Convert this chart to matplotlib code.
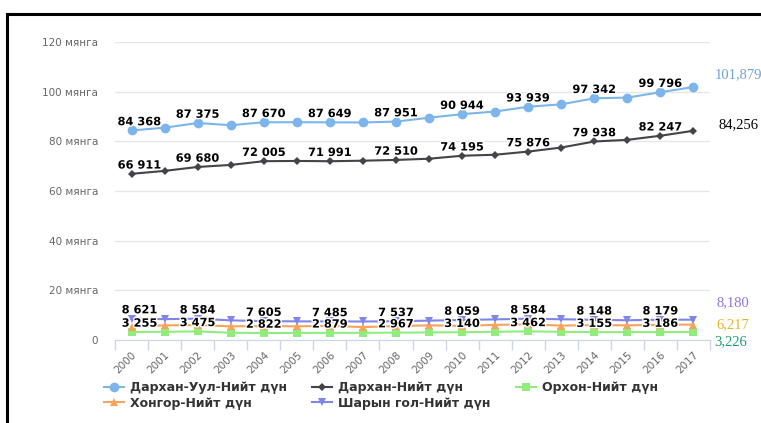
import matplotlib.pyplot as plt
import matplotlib.patheffects as pe
from matplotlib.lines import Line2D

# Years on the category axis
years = list(range(2000, 2018))

# Series values (persons)
darkhan_uul = [84368, 85500, 87375, 86500, 87670, 87700, 87649, 87600, 87951,
               89500, 90944, 92000, 93939, 94900, 97342, 97600, 99796, 101879]
darkhan = [66911, 68100, 69680, 70500, 72005, 72100, 71991, 72200, 72510,
           73000, 74195, 74600, 75876, 77500, 79938, 80600, 82247, 84256]
orkhon = [3255, 3300, 3475, 2900, 2822, 2850, 2879, 2900, 2967,
          3050, 3140, 3300, 3462, 3300, 3155, 3170, 3186, 3226]
khongor = [5400, 5900, 6000, 5500, 5600, 5500, 5700, 5200, 5600,
           5900, 5700, 6100, 6300, 5800, 6000, 5900, 6100, 6217]
sharyn_gol = [8621, 8400, 8584, 7900, 7605, 7500, 7485, 7450, 7537,
              7800, 8059, 8300, 8584, 8350, 8148, 7950, 8179, 8180]

series_names = ['Дархан-Уул-Нийт дүн', 'Дархан-Нийт дүн', 'Орхон-Нийт дүн',
                'Хонгор-Нийт дүн', 'Шарын гол-Нийт дүн']

y_ticks = [0, 20000, 40000, 60000, 80000, 100000, 120000]
y_tick_labels = ['0', '20 мянга', '40 мянга', '60 мянга', '80 мянга',
                 '100 мянга', '120 мянга']

W, H = 761, 423
fig = plt.figure(figsize=(W / 100, H / 100), dpi=100)
ax = fig.add_axes([115 / W, 1 - 340 / H, (710 - 115) / W, (340 - 42) / H])

x = list(range(len(years)))

# series: values, colour, marker, size, label-every-other-point?, end label colour, end label offset (px)
series = [
    (darkhan_uul, '#7cb5ec', 'o', 7.0, True, '#6fa3d4', (21, 12)),
    (darkhan, '#434348', 'D', 4.5, True, 'black', (25, 6)),
    (orkhon, '#90ed7d', 's', 6.0, True, '#1e9c6c', (21, -10)),
    (khongor, '#f7a35c', '^', 6.0, False, '#e6b425', (23, 0)),
    (sharyn_gol, '#8085e9', 'v', 6.0, True, '#9673d6', (23, 17)),
]

handles = []
outline = [pe.withStroke(linewidth=2, foreground='white')]
for i, (vals, col, mk, ms, labelled, end_col, off) in enumerate(series):
    h, = ax.plot(x, vals, color=col, lw=1.5, marker=mk, markersize=ms,
                 markeredgewidth=0, label=series_names[i], zorder=3 + i,
                 clip_on=False)
    handles.append(h)
    if labelled:
        for j in range(0, len(vals) - 1, 2):
            dx = 8 if j == 0 else 0
            ax.annotate(f'{vals[j]:,}'.replace(',', ' '), (x[j], vals[j]),
                        xytext=(dx * 0.72, 3.8), textcoords='offset points',
                        ha='center', va='baseline', fontsize=8.2,
                        fontweight='bold', color='black', zorder=20,
                        path_effects=outline)
    ax.annotate(f'{vals[-1]:,}', (x[-1], vals[-1]),
                xytext=(off[0] * 0.72, off[1] * 0.72), textcoords='offset points',
                ha='left', va='center', fontsize=10.5, color=end_col,
                family='Liberation Serif', annotation_clip=False)

ax.set_xlim(-0.5, len(years) - 0.5)
ax.set_ylim(0, 120000)
ax.set_yticks(y_ticks)
ax.set_yticklabels(y_tick_labels)
ax.set_xticks(x)
ax.set_xticklabels([str(y) for y in years], rotation=45, ha='right',
                   va='top', rotation_mode='anchor')
ax.set_xticks([v - 0.5 for v in x] + [x[-1] + 0.5], minor=True)

ax.grid(axis='y', color='#e6e6e6', lw=1)
ax.set_axisbelow(True)
for s in ['top', 'right', 'left']:
    ax.spines[s].set_visible(False)
ax.spines['bottom'].set_color('#ccd6eb')
ax.tick_params(axis='y', length=0, pad=12, labelsize=7.5, labelcolor='#666666')
ax.tick_params(axis='x', which='major', length=0, pad=7, labelsize=7.5,
               labelcolor='#666666')
ax.tick_params(axis='x', which='minor', length=7, color='#ccd6eb', width=1)

# legend: row-wise order in three columns
order = [0, 3, 1, 4, 2]
fig.legend([handles[k] for k in order], [series_names[k] for k in order],
           loc='upper left', bbox_to_anchor=(104 / W, 1 - 381 / H), ncol=3,
           frameon=False, prop={'weight': 'bold', 'size': 9},
           labelcolor='#333333', handlelength=1.6, handletextpad=0.5,
           columnspacing=2.0, labelspacing=0.2, borderpad=0, borderaxespad=0,
           numpoints=1)

# frame around the picture (top and left edges visible)
fig.add_artist(Line2D([7 / W, 1], [1 - 14 / H] * 2, color='black', lw=2.2,
                      transform=fig.transFigure))
fig.add_artist(Line2D([7 / W] * 2, [0, 1 - 14 / H], color='black', lw=2.2,
                      transform=fig.transFigure))

fig.savefig('out.png', dpi=100)
